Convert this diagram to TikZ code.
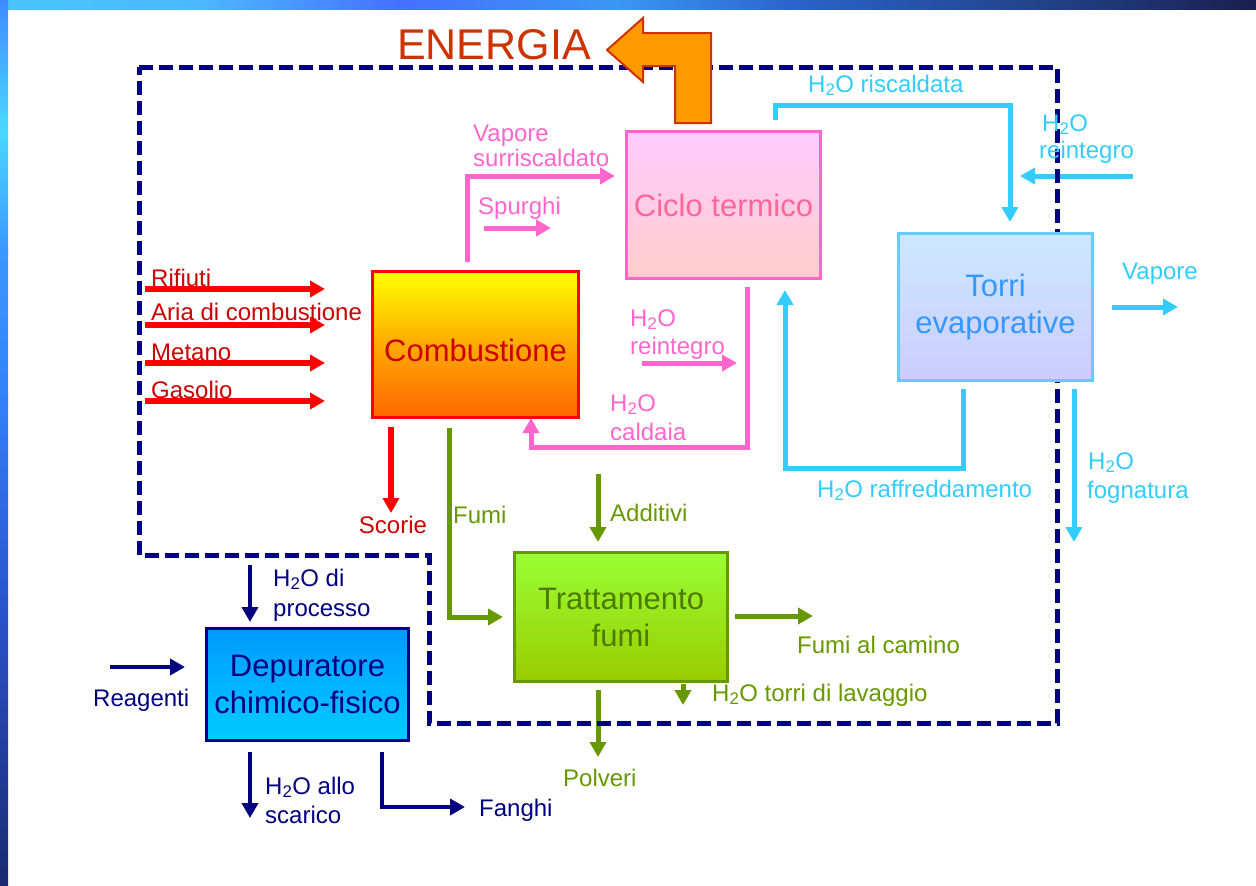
\documentclass[tikz,border=0pt]{standalone}
\usepackage{fontspec}
\setmainfont{Liberation Sans}
\usetikzlibrary{arrows.meta}

% flow colours
\definecolor{cRed}{HTML}{FF0000}
\definecolor{cRedTxt}{HTML}{CC0000}
\definecolor{cPink}{HTML}{FF66CC}
\definecolor{cPinkTxt}{HTML}{FF6699}
\definecolor{cCyan}{HTML}{33CCFF}
\definecolor{cCyanBox}{HTML}{66CCFF}
\definecolor{cCyanTxt}{HTML}{3399FF}
\definecolor{cGreen}{HTML}{669900}
\definecolor{cGreenTxt}{HTML}{4D7A00}
\definecolor{cNavy}{HTML}{000080}
\definecolor{cOrange}{HTML}{FF9900}
\definecolor{cRust}{HTML}{CC3300}
% unit fills
\definecolor{combTop}{HTML}{FFFF00}
\definecolor{combMid}{HTML}{FFAA00}
\definecolor{combBot}{HTML}{FF6600}
\definecolor{cicloTop}{HTML}{FFCCFF}
\definecolor{cicloBot}{HTML}{FFCCCC}
\definecolor{torriTop}{HTML}{CCE8FF}
\definecolor{torriBot}{HTML}{CCCCFF}
\definecolor{trattTop}{HTML}{99FF33}
\definecolor{trattBot}{HTML}{99CC00}
\definecolor{depTop}{HTML}{0099FF}
\definecolor{depBot}{HTML}{00CCFF}
% frame colours
\definecolor{t0}{HTML}{49C6FB}
\definecolor{t1}{HTML}{4CB8FF}
\definecolor{t2}{HTML}{4570FF}
\definecolor{t3}{HTML}{3A98F2}
\definecolor{t4}{HTML}{2A62C8}
\definecolor{t5}{HTML}{22468E}
\definecolor{t6}{HTML}{1A1F50}
\definecolor{l0}{HTML}{3D8BFF}
\definecolor{l1}{HTML}{4AD8FF}
\definecolor{l2}{HTML}{3A98FF}
\definecolor{l3}{HTML}{3480FA}
\definecolor{l4}{HTML}{2A55D0}
\definecolor{l5}{HTML}{1A2A70}

\newcommand{\lblsize}{\fontsize{24}{28}\selectfont}
\newcommand{\boxsize}{\fontsize{31}{37}\selectfont}
\newcommand{\HtwoO}{H\textsubscript{2}O}

\begin{document}
\begin{tikzpicture}[x=1pt, y=-1pt,
  box/.style={draw, line width=3pt, align=center, inner sep=0pt, font=\boxsize},
  lbl/.style={inner sep=0pt, anchor=base west, font=\lblsize},
  lblc/.style={inner sep=0pt, anchor=base, font=\lblsize},
  flow/.style={line width=5pt, -{Triangle[length=15pt,width=16pt]}},
  boundary/.style={draw=cNavy, line width=5pt, dash pattern=on 14pt off 6pt},
]
\useasboundingbox (0,0) rectangle (1256,886);
\fill[white] (0,0) rectangle (1256,886);

% slide frame: gradient bars along the top and the left edge
\shade[left color=t0, right color=t1] (0,0) rectangle (200,9);
\shade[left color=t1, right color=t2] (199.5,0) rectangle (400,9);
\shade[left color=t2, right color=t3] (399.5,0) rectangle (620,9);
\shade[left color=t3, right color=t4] (619.5,0) rectangle (800,9);
\shade[left color=t4, right color=t5] (799.5,0) rectangle (1020,9);
\shade[left color=t5, right color=t6] (1019.5,0) rectangle (1256,9);
\shade[top color=l0, bottom color=l1] (0,0) rectangle (8,130);
\shade[top color=l1, bottom color=l2] (0,129.5) rectangle (8,250);
\shade[top color=l2, bottom color=l3] (0,249.5) rectangle (8,400);
\shade[top color=l3, bottom color=l4] (0,399.5) rectangle (8,600);
\shade[top color=l4, bottom color=l5] (0,599.5) rectangle (8,886);

% ---- fuels and air into the combustion chamber (red)
\foreach \n/\y in {rif/289, aria/325, met/363, gas/401} {
  \coordinate (\n-s) at (145,\y);
  \coordinate (\n-e) at (325,\y);
  \draw[flow, cRed, line width=6pt] (\n-s) -- (\n-e);
}
\coordinate (sco-s) at (391,427);
\coordinate (sco-e) at (391,513);
\draw[flow, cRed, line width=6pt] (sco-s) -- (sco-e);

% ---- steam / boiler water loop (pink)
\coordinate (vap-s) at (467,262);
\coordinate (vap-c) at (467,176);
\coordinate (vap-e) at (615,176);
\draw[flow, cPink] (vap-s) -- (vap-c) -- (vap-e);
\coordinate (spu-s) at (484,228);
\coordinate (spu-e) at (551,228);
\draw[flow, cPink] (spu-s) -- (spu-e);
\coordinate (cal-s) at (747,287);
\coordinate (cal-c1) at (747,447);
\coordinate (cal-c2) at (531,447);
\coordinate (cal-e) at (531,418);
\draw[flow, cPink] (cal-s) -- (cal-c1) -- (cal-c2) -- (cal-e);
\coordinate (rip-s) at (642,363);
\coordinate (rip-e) at (737,363);
\draw[flow, cPink] (rip-s) -- (rip-e);

% ---- cooling water circuit (cyan)
\coordinate (ris-s) at (775,120);
\coordinate (ris-c1) at (775,105);
\coordinate (ris-c2) at (1010,105);
\coordinate (ris-e) at (1010,222);
\draw[flow, cCyan] (ris-s) -- (ris-c1) -- (ris-c2) -- (ris-e);
\coordinate (ric-s) at (1133,176);
\coordinate (ric-e) at (1020,176);
\draw[flow, cCyan] (ric-s) -- (ric-e);
\coordinate (tv-s) at (1112,307);
\coordinate (tv-e) at (1178,307);
\draw[flow, cCyan] (tv-s) -- (tv-e);
\coordinate (fog-s) at (1074,389);
\coordinate (fog-e) at (1074,542);
\draw[flow, cCyan] (fog-s) -- (fog-e);
\coordinate (raf-s) at (963,389);
\coordinate (raf-c1) at (963,468);
\coordinate (raf-c2) at (785,468);
\coordinate (raf-e) at (785,290);
\draw[flow, cCyan] (raf-s) -- (raf-c1) -- (raf-c2) -- (raf-e);

% ---- flue gas line (green)
\coordinate (fum-s) at (449,428);
\coordinate (fum-c) at (449,617);
\coordinate (fum-e) at (503,617);
\draw[flow, cGreen] (fum-s) -- (fum-c) -- (fum-e);
\coordinate (add-s) at (598,474);
\coordinate (add-e) at (598,542);
\draw[flow, cGreen] (add-s) -- (add-e);
\coordinate (cam-s) at (735,616);
\coordinate (cam-e) at (813,616);
\draw[flow, cGreen] (cam-s) -- (cam-e);
\coordinate (lav-s) at (683,684);
\coordinate (lav-e) at (683,705);
\draw[flow, cGreen] (lav-s) -- (lav-e);
\coordinate (pol-s) at (598,690);
\coordinate (pol-e) at (598,757);
\draw[flow, cGreen] (pol-s) -- (pol-e);

% ---- waste water treatment (navy)
\coordinate (pro-s) at (250,565);
\coordinate (pro-e) at (250,622);
\draw[flow, cNavy, line width=4.5pt] (pro-s) -- (pro-e);
\coordinate (rea-s) at (110,667);
\coordinate (rea-e) at (185,667);
\draw[flow, cNavy, line width=4.5pt] (rea-s) -- (rea-e);
\coordinate (sca-s) at (250,752);
\coordinate (sca-e) at (250,818);
\draw[flow, cNavy, line width=4.5pt] (sca-s) -- (sca-e);
\coordinate (fan-s) at (382,752);
\coordinate (fan-c) at (382,807);
\coordinate (fan-e) at (465,807);
\draw[flow, cNavy, line width=4.5pt] (fan-s) -- (fan-c) -- (fan-e);

% plant boundary
\draw[boundary] (139,67) -- (1057,67) -- (1057,723) -- (429,723)
  -- (429,555) -- (139,555) -- cycle;

% ---- process units
\node[box, draw=cRed, top color=combTop, bottom color=combBot,
      middle color=combMid, text=cRedTxt,
      minimum width=206pt, minimum height=146pt, text height=35pt]
      (comb) at (475.5,344.5) {Combustione};
\node[box, draw=cPink, top color=cicloTop, bottom color=cicloBot,
      text=cPinkTxt, minimum width=194pt, minimum height=147pt]
      (ciclo) at (723.5,205) {Ciclo termico};
\node[box, draw=cCyanBox, top color=torriTop, bottom color=torriBot,
      text=cCyanTxt, minimum width=194pt, minimum height=147pt]
      (torri) at (995.5,307) {Torri\\evaporative};
\node[box, draw=cGreen, top color=trattTop, bottom color=trattBot,
      text=cGreenTxt, minimum width=213pt, minimum height=129pt]
      (tratt) at (621,617) {Trattamento\\fumi};
\node[box, draw=cNavy, top color=depTop, bottom color=depBot,
      text=cNavy, minimum width=202pt, minimum height=112pt]
      (dep) at (307.5,684.5) {Depuratore\\chimico-fisico};

% energy output arrow
\draw[fill=cOrange, draw=cRust, line width=2pt, line join=miter]
  (711,123) -- (711,33) -- (643,33) -- (643,18) -- (607,50) -- (643,82)
  -- (643,66) -- (675,66) -- (675,123) -- cycle;
\node[inner sep=0pt, anchor=base west, font=\fontsize{43}{50}\selectfont, text=cRust]
  (energia) at (397,59) {ENERGIA};

% ---- flow labels
\begin{scope}[text=cRedTxt]
\node[lbl] (l-rif)  at (151,286) {Rifiuti};
\node[lbl] (l-aria) at (151,320) {Aria di combustione};
\node[lbl] (l-met)  at (151,360) {Metano};
\node[lbl] (l-gas)  at (151,398) {Gasolio};
\node[lblc] (l-sco) at (393,533) {Scorie};
\end{scope}
\begin{scope}[text=cPink]
\node[lbl] (l-vap1) at (473,141) {Vapore};
\node[lbl] (l-vap2) at (473,166) {surriscaldato};
\node[lbl] (l-spu)  at (478,214) {Spurghi};
\node[lbl] (l-rip1) at (630,326) {\HtwoO};
\node[lbl] (l-rip2) at (630,354) {reintegro};
\node[lbl] (l-cal1) at (610,411) {\HtwoO};
\node[lbl] (l-cal2) at (610,440) {caldaia};
\end{scope}
\begin{scope}[text=cCyan]
\node[lbl] (l-ris)  at (808,92)  {\HtwoO{} riscaldata};
\node[lbl] (l-ric1) at (1042,131) {\HtwoO};
\node[lbl] (l-ric2) at (1039,158) {reintegro};
\node[lbl] (l-tv)   at (1122,279) {Vapore};
\node[lbl] (l-fog1) at (1088,469) {\HtwoO};
\node[lbl] (l-fog2) at (1087,498) {fognatura};
\node[lbl] (l-raf)  at (817,497) {\HtwoO{} raffreddamento};
\end{scope}
\begin{scope}[text=cGreen]
\node[lbl] (l-fum)  at (453,523) {Fumi};
\node[lbl] (l-add)  at (610,521) {Additivi};
\node[lbl] (l-cam)  at (797,653) {Fumi al camino};
\node[lbl] (l-lav)  at (712,701) {\HtwoO{} torri di lavaggio};
\node[lbl] (l-pol)  at (563,786) {Polveri};
\end{scope}
\begin{scope}[text=cNavy]
\node[lbl] (l-pro1) at (273,586) {\HtwoO{} di};
\node[lbl] (l-pro2) at (273,616) {processo};
\node[lbl] (l-rea)  at (93,706)  {Reagenti};
\node[lbl] (l-sca1) at (265,794) {\HtwoO{} allo};
\node[lbl] (l-sca2) at (265,823) {scarico};
\node[lbl] (l-fan)  at (479,816) {Fanghi};
\end{scope}
\end{tikzpicture}
\end{document}
